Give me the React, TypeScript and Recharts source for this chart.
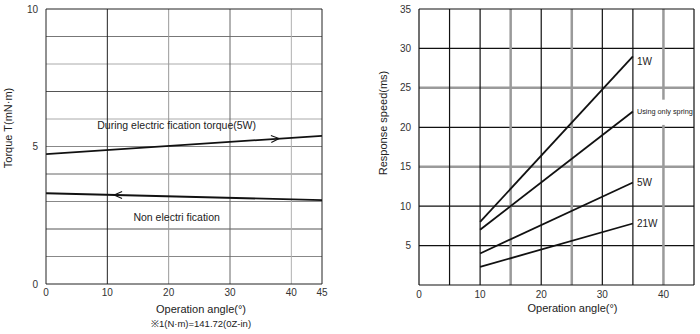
import React from 'react';
import { LineChart, Line, XAxis, YAxis, ReferenceLine, ReferenceDot } from 'recharts';

// ---------- Left chart data: torque vs operation angle ----------
const torqueAngles = [0, 45];
const torqueEnergized = [4.72, 5.39];
const torqueNonEnergized = [3.3, 3.05];
const torqueXTicks = [0, 10, 20, 30, 40, 45];
const torqueYTicks = [0, 5, 10];
const torqueGridX = [10, 20, 30, 40];
const torqueGridY = [1, 2, 3, 4, 5, 6, 7, 8, 9];
const torqueArrowAngles = [38, 11.1];
const torqueArrowValues = [5.29, 3.24];
const torqueArrowDirs = ['right', 'left'];
const torqueTexts = ['During electric fication torque(5W)', 'Non electri fication'];
const torqueTextAngles = [21.3, 21.3];
const torqueTextValues = [5.78, 2.45];

// ---------- Right chart data: response speed vs operation angle ----------
const responseAngles = [10, 35];
const response1W = [8, 29];
const responseSpring = [7, 22];
const response5W = [4, 13];
const response21W = [2.3, 7.8];
const responseNames = ['1W', 'Using only spring', '5W', '21W'];
const responseLabelValues = [28.4, 22, 13, 7.8];
const responseXTicks = [0, 10, 20, 30, 40];
const responseYTicks = [5, 10, 15, 20, 25, 30, 35];
const responseGridX = [5, 10, 15, 20, 25, 30, 35];
const responseGridY = [5, 10, 15, 20, 25, 30];

// ---------- styles ----------
const INK = '#222';
const TICK = { fill: '#333', fontSize: 10 };
const torqueGridXColors = ['#222', '#9a9a9a', '#666', '#b0b0b0'];
const torqueGridYColors = ['#888', '#555', '#888', '#666', '#888', '#aaa', '#555', '#aaa', '#777'];
const thickGray = (v: number) => v === 15 || v === 25 || v === 40;

const torqueData = torqueAngles.map((a, i) => ({
  angle: a,
  on: torqueEnergized[i],
  off: torqueNonEnergized[i],
}));

const responseData = responseAngles.map((a, i) => ({
  angle: a,
  w1: response1W[i],
  spring: responseSpring[i],
  w5: response5W[i],
  w21: response21W[i],
}));
const responseKeys = ['w1', 'spring', 'w5', 'w21'];

const Arrow = (dir: string) => (props: any) => {
  const { cx, cy } = props;
  const s = dir === 'right' ? -1 : 1;
  const rot = dir === 'right' ? -3.5 : 0.7;
  return (
    <path
      d={`M${cx + s * 8},${cy - 3.5} L${cx},${cy} L${cx + s * 8},${cy + 3.5}`}
      fill="none"
      stroke="#111"
      strokeWidth={1.1}
      transform={`rotate(${rot} ${cx} ${cy})`}
    />
  );
};

function TorqueChart() {
  return (
    <LineChart width={350} height={334} data={torqueData} margin={{ top: 9, right: 28, bottom: 30, left: 0 }}>
      {torqueGridY.map((v, i) => (
        <ReferenceLine key={'gy' + v} y={v} stroke={torqueGridYColors[i]} strokeWidth={1} />
      ))}
      {torqueGridX.map((v, i) => (
        <ReferenceLine key={'gx' + v} x={v} stroke={torqueGridXColors[i]} strokeWidth={1} />
      ))}
      <ReferenceLine y={10} stroke={INK} strokeWidth={1} />
      <ReferenceLine x={45} stroke={INK} strokeWidth={1} />
      <XAxis
        type="number"
        dataKey="angle"
        domain={[0, 45]}
        ticks={torqueXTicks}
        interval={0}
        tickLine={false}
        tickSize={4}
        tickMargin={1}
        height={20}
        axisLine={{ stroke: INK }}
        tick={TICK}
        label={(p: any) => {
          const vb = p.viewBox;
          const cx = vb.x + vb.width / 2 + 17;
          return (
            <g>
              <text x={cx} y={313} textAnchor="middle" fill="#222" fontSize={11}>
                Operation angle(°)
              </text>
              <text x={cx} y={327} textAnchor="middle" fill="#222" fontSize={9.5}>
                ※1(N·m)=141.72(0Z-in)
              </text>
            </g>
          );
        }}
      />
      <YAxis
        type="number"
        domain={[0, 10]}
        ticks={torqueYTicks}
        interval={0}
        width={46}
        tickLine={false}
        axisLine={{ stroke: INK }}
        tick={TICK}
        label={() => (
          <text
            x={8}
            y={128}
            transform="rotate(-90 8 128)"
            textAnchor="middle"
            dominantBaseline="central"
            fill="#222"
            fontSize={11}
          >
            Torque T(mN·m)
          </text>
        )}
      />
      <Line type="linear" dataKey="on" stroke="#111" strokeWidth={1.8} dot={false} isAnimationActive={false} />
      <Line type="linear" dataKey="off" stroke="#111" strokeWidth={1.8} dot={false} isAnimationActive={false} />
      {torqueArrowAngles.map((a, i) => (
        <ReferenceDot key={'ar' + i} x={a} y={torqueArrowValues[i]} r={0} shape={Arrow(torqueArrowDirs[i])} />
      ))}
      {torqueTexts.map((t, i) => (
        <ReferenceDot
          key={'tt' + i}
          x={torqueTextAngles[i]}
          y={torqueTextValues[i]}
          r={0}
          fill="none"
          stroke="none"
          label={(p: any) => (
            <text
              x={p.viewBox.x}
              y={p.viewBox.y}
              textAnchor="middle"
              dominantBaseline="central"
              fill="#222"
              fontSize={10.5}
            >
              {t}
            </text>
          )}
        />
      ))}
    </LineChart>
  );
}

function ResponseChart() {
  return (
    <LineChart width={350} height={334} data={responseData} margin={{ top: 9, right: 6, bottom: 29, left: 0 }}>
      {responseGridY.map((v) => (
        <ReferenceLine
          key={'gy' + v}
          y={v}
          stroke={thickGray(v) ? '#9a9a9a' : '#111'}
          strokeWidth={thickGray(v) ? 2.5 : 1.2}
        />
      ))}
      {responseGridX.map((v) => (
        <ReferenceLine
          key={'gx' + v}
          x={v}
          stroke={thickGray(v) ? '#9a9a9a' : '#111'}
          strokeWidth={thickGray(v) ? 2.5 : 1.2}
        />
      ))}
      <ReferenceLine segment={[{ x: 40, y: 0 }, { x: 40, y: 20.3 }]} stroke="#9a9a9a" strokeWidth={2.5} />
      <ReferenceLine segment={[{ x: 40, y: 23.5 }, { x: 40, y: 35 }]} stroke="#9a9a9a" strokeWidth={2.5} />
      <ReferenceLine y={35} stroke="#111" strokeWidth={1.2} />
      <ReferenceLine x={45} stroke="#111" strokeWidth={1.2} />
      <XAxis
        type="number"
        dataKey="angle"
        domain={[0, 45]}
        ticks={responseXTicks}
        interval={0}
        tickLine={false}
        tickSize={4}
        tickMargin={2}
        height={20}
        axisLine={{ stroke: '#111', strokeWidth: 1.2 }}
        tick={TICK}
        label={(p: any) => {
          const vb = p.viewBox;
          const cx = vb.x + vb.width / 2 + 16;
          return (
            <text x={cx} y={312} textAnchor="middle" fill="#222" fontSize={11}>
              Operation angle(°)
            </text>
          );
        }}
      />
      <YAxis
        type="number"
        domain={[0, 35]}
        ticks={responseYTicks}
        interval={0}
        width={69}
        tickLine={false}
        axisLine={{ stroke: '#111', strokeWidth: 1.2 }}
        tick={TICK}
        label={() => (
          <text
            x={33}
            y={123}
            transform="rotate(-90 33 123)"
            textAnchor="middle"
            dominantBaseline="central"
            fill="#222"
            fontSize={11}
          >
            Response speed(ms)
          </text>
        )}
      />
      {responseKeys.map((k) => (
        <Line key={k} type="linear" dataKey={k} stroke="#111" strokeWidth={1.8} dot={false} isAnimationActive={false} />
      ))}
      {responseNames.map((n, i) => (
        <ReferenceDot
          key={'lb' + i}
          x={responseAngles[responseAngles.length - 1]}
          y={responseLabelValues[i]}
          r={0}
          fill="none"
          stroke="none"
          label={(p: any) => (
            <text
              x={p.viewBox.x + 4}
              y={p.viewBox.y}
              textAnchor="start"
              dominantBaseline="central"
              fill="#222"
              fontSize={n.length > 4 ? 7.3 : 10}
            >
              {n}
            </text>
          )}
        />
      ))}
    </LineChart>
  );
}

export default function App() {
  return (
    <div
      style={{
        position: 'absolute',
        left: 0,
        top: 0,
        width: 700,
        height: 334,
        background: '#fff',
        display: 'flex',
        fontFamily: '"Liberation Sans", Arial, sans-serif',
      }}
    >
      <TorqueChart />
      <ResponseChart />
    </div>
  );
}
